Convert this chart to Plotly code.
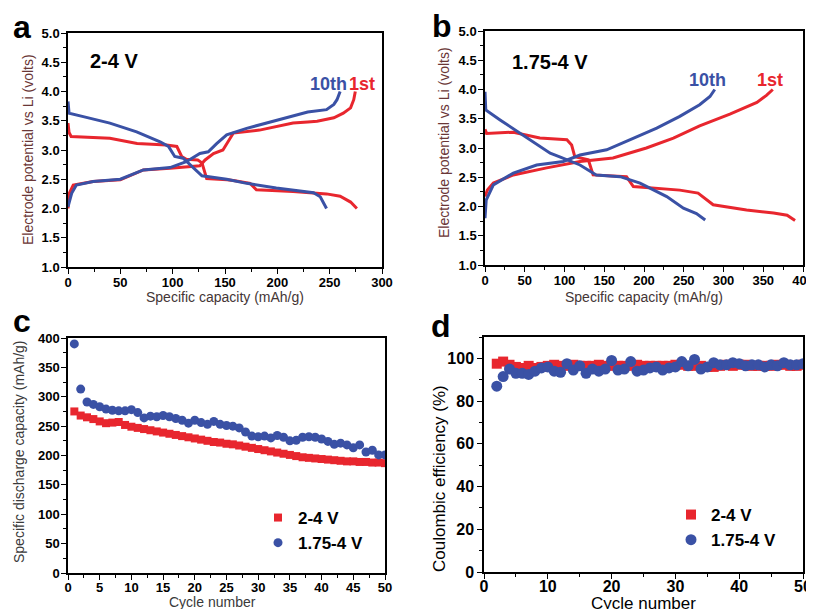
import plotly.graph_objects as go

RED = "#e8262e"
BLUE = "#3a51a5"

# ---- Panel a (2-4 V) ----
a_dis1_x = [0, 1, 3, 15, 40, 66, 85, 94, 104, 108.6, 113, 124, 128, 132.5, 152, 158, 174, 180, 190, 215, 247, 260, 270, 276]
a_dis1_y = [3.46, 3.3, 3.23, 3.22, 3.2, 3.11, 3.1, 3.085, 3.06, 2.89, 2.84, 2.83, 2.78, 2.51, 2.49, 2.48, 2.43, 2.32, 2.31, 2.29, 2.25, 2.21, 2.11, 2.0]
a_chg1_x = [0, 1, 5, 24, 50, 72, 97.5, 126, 131, 139, 148, 153, 158, 183, 215, 229, 238, 254, 263, 270, 273, 274.5]
a_chg1_y = [2.0, 2.25, 2.4, 2.46, 2.49, 2.66, 2.69, 2.73, 2.83, 2.94, 3.0, 3.14, 3.29, 3.34, 3.46, 3.48, 3.49, 3.55, 3.63, 3.72, 3.86, 4.0]
a_dis10_x = [0, 1, 14.6, 40, 65.6, 88, 96, 102, 110, 118, 128, 151.6, 170.7, 199, 229, 234.6, 241, 247]
a_dis10_y = [3.83, 3.63, 3.57, 3.46, 3.31, 3.14, 3.06, 2.89, 2.86, 2.72, 2.56, 2.5, 2.43, 2.35, 2.28, 2.27, 2.2, 2.0]
a_chg10_x = [0, 3.5, 8, 24, 50, 72, 97.5, 113, 126, 134, 142, 151.6, 170.7, 199, 229, 247, 254, 257, 260]
a_chg10_y = [2.03, 2.26, 2.4, 2.46, 2.5, 2.66, 2.7, 2.8, 2.94, 2.97, 3.11, 3.26, 3.37, 3.51, 3.65, 3.69, 3.78, 3.86, 4.0]

# ---- Panel b (1.75-4 V) ----
b_dis1_x = [0, 2, 35.6, 69, 103, 109, 113, 130, 136, 178, 186.6, 245, 268, 287, 329, 363, 380, 390]
b_dis1_y = [3.32, 3.25, 3.27, 3.17, 3.14, 3.05, 2.85, 2.8, 2.54, 2.51, 2.34, 2.28, 2.23, 2.03, 1.94, 1.89, 1.85, 1.76]
b_chg1_x = [0, 3, 10.5, 35.6, 77.6, 119.5, 161, 203, 237, 270, 308, 342, 354, 362]
b_chg1_y = [2.17, 2.28, 2.4, 2.54, 2.66, 2.77, 2.83, 3.0, 3.17, 3.38, 3.58, 3.78, 3.9, 4.0]
b_dis10_x = [0, 1, 19, 48, 82, 94, 119.5, 140, 170, 195, 228.6, 249.6, 266, 277]
b_dis10_y = [3.96, 3.65, 3.48, 3.22, 2.91, 2.85, 2.71, 2.54, 2.51, 2.4, 2.17, 1.97, 1.88, 1.77]
b_chg10_x = [0, 1.5, 10.5, 35.6, 65, 98.5, 119.5, 153, 182, 216, 245, 270, 283, 289]
b_chg10_y = [1.8, 2.11, 2.37, 2.57, 2.71, 2.77, 2.88, 2.97, 3.14, 3.34, 3.54, 3.74, 3.88, 4.0]

# ---- Panel c (discharge capacity vs cycle) ----
cycles = list(range(1, 51))
cap_24 = [275, 268, 265, 262, 258, 255, 256, 257, 252, 249, 247, 245, 243, 241, 239, 237, 235, 233, 231, 229,
          227, 225, 223, 222, 220, 219, 217, 215, 213, 211, 209, 207, 205, 203, 201, 199, 197, 196, 195, 194,
          193, 192, 191, 190, 190, 189, 189, 188, 188, 187]
cap_175 = [390, 313, 291, 287, 283, 279, 277, 276, 276, 278, 273, 264, 267, 266, 268, 266, 263, 260, 255, 260,
           256, 253, 258, 253, 251, 250, 247, 240, 233, 232, 233, 230, 234, 231, 225, 226, 231, 232, 231, 228,
           224, 219, 221, 218, 213, 218, 206, 209, 201, 201]

# ---- Panel d (coulombic efficiency) ----
cycles_d = list(range(2, 51))
ce_24 = [97.5, 98.5, 97.0, 96.0, 95.5, 96.5, 95.5, 96.0, 96.5, 97.0, 96.5, 96.5, 97.0, 96.5, 96.5, 96.5, 97.0, 96.5, 96.5,
         96.5, 96.5, 96.5, 97.0, 96.5, 96.5, 96.5, 96.5, 96.5, 97.0, 97.0, 96.5, 96.5, 96.5, 96.0, 96.0, 96.5, 97.0,
         96.5, 97.0, 97.0, 96.5, 96.5, 96.5, 96.5, 97.0, 97.0, 96.5, 96.5, 97.0]
ce_175 = [87.0, 91.5, 95.0, 93.0, 93.0, 92.5, 94.0, 95.5, 96.0, 94.0, 93.5, 97.5, 94.5, 96.5, 93.0, 95.0, 94.0, 95.0,
          99.0, 94.5, 95.0, 98.5, 94.0, 94.5, 95.5, 96.0, 94.5, 95.5, 96.0, 98.5, 96.5, 99.5, 95.0, 96.0, 98.0, 97.0,
          97.0, 98.0, 97.5, 96.5, 97.0, 97.0, 96.0, 97.0, 96.5, 98.0, 97.0, 97.0, 97.5]

FONT = "Liberation Sans, Arial, sans-serif"
W, H, OFF = 814, 609, 8  # page body margin offsets the figure by 8 px


def px(sx):
    return (sx - OFF) / W


def py(sy):
    return 1 - (sy - OFF) / H


fig = go.Figure()


def curve(x, y, color, xa, ya):
    fig.add_trace(go.Scatter(x=x, y=y, mode="lines", line=dict(color=color, width=3),
                             xaxis=xa, yaxis=ya, showlegend=False))


curve(a_dis1_x, a_dis1_y, RED, "x", "y")
curve(a_chg1_x, a_chg1_y, RED, "x", "y")
curve(a_dis10_x, a_dis10_y, BLUE, "x", "y")
curve(a_chg10_x, a_chg10_y, BLUE, "x", "y")

curve(b_dis1_x, b_dis1_y, RED, "x2", "y2")
curve(b_chg1_x, b_chg1_y, RED, "x2", "y2")
curve(b_dis10_x, b_dis10_y, BLUE, "x2", "y2")
curve(b_chg10_x, b_chg10_y, BLUE, "x2", "y2")

fig.add_trace(go.Scatter(x=cycles, y=cap_24, mode="markers", name="2-4 V",
                         marker=dict(symbol="square", size=8, color=RED),
                         xaxis="x3", yaxis="y3", legend="legend"))
fig.add_trace(go.Scatter(x=cycles, y=cap_175, mode="markers", name="1.75-4 V",
                         marker=dict(symbol="circle", size=9, color=BLUE),
                         xaxis="x3", yaxis="y3", legend="legend"))
fig.add_trace(go.Scatter(x=cycles_d, y=ce_24, mode="markers", name="2-4 V",
                         marker=dict(symbol="square", size=10, color=RED),
                         xaxis="x4", yaxis="y4", legend="legend2"))
fig.add_trace(go.Scatter(x=cycles_d, y=ce_175, mode="markers", name="1.75-4 V",
                         marker=dict(symbol="circle", size=11, color=BLUE),
                         xaxis="x4", yaxis="y4", legend="legend2"))


def ax(domain, anchor, rng, dtick, minor_dtick, tfs, fmt=None, standoff=0):
    d = dict(domain=domain, anchor=anchor, range=rng, dtick=dtick, tick0=0, automargin=False,
             showline=True, linecolor="black", linewidth=1.5, mirror=True,
             ticks="outside", ticklen=5, tickwidth=1.3, tickcolor="black",
             minor=dict(dtick=minor_dtick, ticks="outside", ticklen=3, tickwidth=1.1, tickcolor="black"),
             showgrid=False, zeroline=False, ticklabelstandoff=standoff,
             tickfont=dict(family=FONT, size=tfs, color="black", weight="bold"))
    if fmt:
        d["tickformat"] = fmt
    return d


fig.update_layout(
    template="none",
    width=W, height=H, margin=dict(l=0, r=0, t=0, b=0),
    paper_bgcolor="white", plot_bgcolor="white",
    xaxis=ax([px(68), px(382)], "y", [0, 300], 50, 25, 13, standoff=-2),
    yaxis=ax([py(267), py(33)], "x", [1, 5], 0.5, 0.25, 13, ".1f", standoff=-1),
    xaxis2=ax([px(485), px(803)], "y2", [0, 400], 50, 25, 13, standoff=-2),
    yaxis2=ax([py(265), py(31)], "x2", [1, 5], 0.5, 0.25, 13, ".1f", standoff=-1),
    xaxis3=ax([px(68), px(385)], "y3", [0, 50], 5, 2.5, 13, standoff=-3),
    yaxis3=ax([py(573), py(338)], "x3", [0, 400], 50, 25, 13, standoff=-1),
    xaxis4=ax([px(484), px(803)], "y4", [0, 50], 10, 5, 16, standoff=-6),
    yaxis4=ax([py(572), py(337)], "x4", [0, 110], 20, 10, 16),
    legend=dict(x=px(258), y=py(500), xanchor="left", yanchor="top", bgcolor="rgba(0,0,0,0)",
                font=dict(family=FONT, size=17, color="black", weight="bold"),
                itemsizing="trace", tracegroupgap=0),
    legend2=dict(x=px(671), y=py(497), xanchor="left", yanchor="top", bgcolor="rgba(0,0,0,0)",
                 font=dict(family=FONT, size=17, color="black", weight="bold"),
                 itemsizing="trace", tracegroupgap=0),
)

# panel letters
for text, sx, sy in [("a", 11, 47), ("b", 430, 46), ("c", 11, 341), ("d", 429, 346)]:
    fig.add_annotation(text=text, x=px(sx), y=py(sy), xref="paper", yref="paper",
                       xanchor="left", yanchor="bottom", showarrow=False,
                       font=dict(family=FONT, size=32, color="black", weight="bold"))

# axis titles
TCOL_Y = "#6a3636"
TCOL_X = "#443636"
axis_titles = [
    ("Electrode potential vs Li (volts)", 28, 150, -90, 14, TCOL_Y),
    ("Specific capacity (mAh/g)", 225, 297, 0, 14, TCOL_X),
    ("Electrode potential vs Li (volts)", 444, 143, -90, 14, TCOL_Y),
    ("Specific capacity (mAh/g)", 644, 297, 0, 14, TCOL_X),
    ("Specific discharge capacity (mAh/g)", 19, 452, -90, 14, "#3a3a3a"),
    ("Cycle number", 212, 602, 0, 14, "#3a3a3a"),
    ("Coulombic efficiency (%)", 440, 478, -90, 17, "black"),
    ("Cycle number", 643, 603, 0, 17, "black"),
]
for text, sx, sy, ang, size, col in axis_titles:
    fig.add_annotation(text=text, x=px(sx), y=py(sy), xref="paper", yref="paper",
                       xanchor="center", yanchor="middle", textangle=ang, showarrow=False,
                       font=dict(family=FONT, size=size, color=col))


def label(text, x, y, xr, yr, color, size):
    fig.add_annotation(text=text, x=x, y=y, xref=xr, yref=yr, xanchor="left", yanchor="middle",
                       showarrow=False, font=dict(family=FONT, size=size, color=color, weight="bold"))


label("2-4 V", 19, 4.52, "x", "y", "black", 20)
label("10th", 229, 4.13, "x", "y", BLUE, 18)
label("1st", 267, 4.13, "x", "y", RED, 18)
label("1.75-4 V", 32, 4.47, "x2", "y2", "black", 20)
label("10th", 254, 4.17, "x2", "y2", BLUE, 18)
label("1st", 340, 4.17, "x2", "y2", RED, 18)

fig.write_html("out.html")
